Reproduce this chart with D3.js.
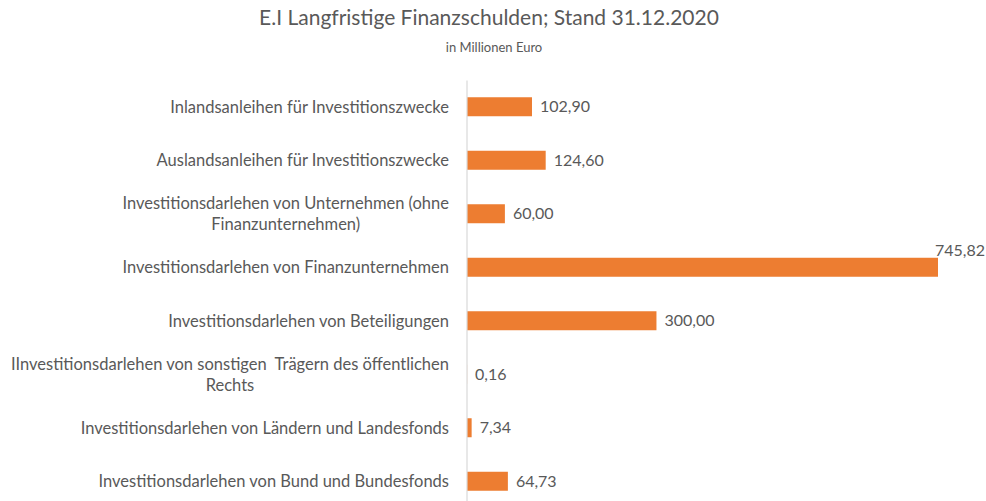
<!DOCTYPE html>
<html>
<head>
<meta charset="utf-8">
<script src="https://cdn.jsdelivr.net/npm/d3@7"></script>
<style>
  body { margin: 0; background: #fff; }
  text { font-family: Lato, "Open Sans", sans-serif; fill: #595959; white-space: pre; }
</style>
</head>
<body>
<div id="chart-area"></div>
<script>
/* Data */
const categories = [
  ['Inlandsanleihen für Investitionszwecke'],
  ['Auslandsanleihen für Investitionszwecke'],
  ['Investitionsdarlehen von Unternehmen (ohne', 'Finanzunternehmen)'],
  ['Investitionsdarlehen von Finanzunternehmen'],
  ['Investitionsdarlehen von Beteiligungen'],
  ['IInvestitionsdarlehen von sonstigen  Trägern des öffentlichen', 'Rechts'],
  ['Investitionsdarlehen von Ländern und Landesfonds'],
  ['Investitionsdarlehen von Bund und Bundesfonds']
]
const values = [102.90, 124.60, 60.00, 745.82, 300.00, 0.16, 7.34, 64.73]

const title = 'E.I Langfristige Finanzschulden; Stand 31.12.2020'
const subtitle = 'in Millionen Euro'

const de = d3.formatLocale({ decimal: ',', thousands: '.', grouping: [3], currency: ['', ' €'] })
const fmt = de.format(',.2f')

/* Canvas */
const CANVAS_WIDTH = 986
const CANVAS_HEIGHT = 501
const margin = { top: 80, left: 467, right: 48, bottom: -7 }
const width = CANVAS_WIDTH - margin.left - margin.right
const height = CANVAS_HEIGHT - margin.top - margin.bottom

const $svg = d3.select('#chart-area')
  .append('svg')
  .attr('width', CANVAS_WIDTH)
  .attr('height', CANVAS_HEIGHT)

// titles
$svg.append('text')
  .attr('x', 489)
  .attr('y', 25)
  .attr('text-anchor', 'middle')
  .attr('font-size', 21)
  .text(title)

$svg.append('text')
  .attr('x', 494)
  .attr('y', 52)
  .attr('text-anchor', 'middle')
  .attr('font-size', 13)
  .text(subtitle)

const data = categories.map((c, i) => ({ key: i, lines: c, value: values[i] }))

/* Scales */
const scaleX = d3.scaleLinear()
  .domain([0, d3.max(values)])
  .range([0, width])

const scaleY = d3.scaleBand()
  .domain(data.map(d => d.key))
  .range([0, height])
  .paddingInner(0.645)
  .paddingOuter(0.3225)

const $group = $svg.append('g')
  .attr('transform', `translate(${margin.left}, ${margin.top})`)

// bars
$group.selectAll('rect')
  .data(data)
  .enter()
  .append('rect')
  .attr('x', 0)
  .attr('y', d => scaleY(d.key))
  .attr('width', d => scaleX(d.value))
  .attr('height', scaleY.bandwidth())
  .attr('fill', '#ED7D31')

// axis line
const yAxis = d3.axisLeft(scaleY).tickSize(0).tickFormat('')
const $yAxisGroup = $group.append('g')
  .attr('transform', 'translate(-0.5, 0)')
  .call(yAxis)
$yAxisGroup.select('.domain').attr('stroke', '#d9d9d9').attr('stroke-width', 1.2)

// category labels (centered block, right edge at 449)
const $labels = $group.selectAll('.cat')
  .data(data)
  .enter()
  .append('g')
  .attr('class', 'cat')
  .attr('transform', d => `translate(0, ${scaleY(d.key) + scaleY.bandwidth() / 2})`)

$labels.each(function (d) {
  const g = d3.select(this)
  const n = d.lines.length
  const lineH = 21
  const texts = d.lines.map((line, j) => g.append('text')
    .attr('y', (j - (n - 1) / 2) * lineH)
    .attr('dy', '0.35em')
    .attr('font-size', 16.5)
    .text(line))
  const widest = d3.max(texts, t => t.node().getComputedTextLength())
  texts.forEach(t => t
    .attr('x', -18 - widest / 2)
    .attr('text-anchor', 'middle'))
})

// value labels
$group.selectAll('.val')
  .data(data)
  .enter()
  .append('text')
  .attr('class', 'val')
  .attr('font-size', 16)
  .attr('dy', '0.35em')
  .text(d => fmt(d.value))
  .each(function (d) {
    const t = d3.select(this)
    const w = this.getComputedTextLength()
    const xEnd = scaleX(d.value) + 8
    const yMid = scaleY(d.key) + scaleY.bandwidth() / 2
    if (margin.left + xEnd + w > CANVAS_WIDTH) {
      // not enough room: place above the bar end
      t.attr('x', CANVAS_WIDTH - margin.left - 1).attr('text-anchor', 'end').attr('y', yMid - 17)
    } else {
      t.attr('x', xEnd).attr('y', yMid)
    }
  })
</script>
</body>
</html>
